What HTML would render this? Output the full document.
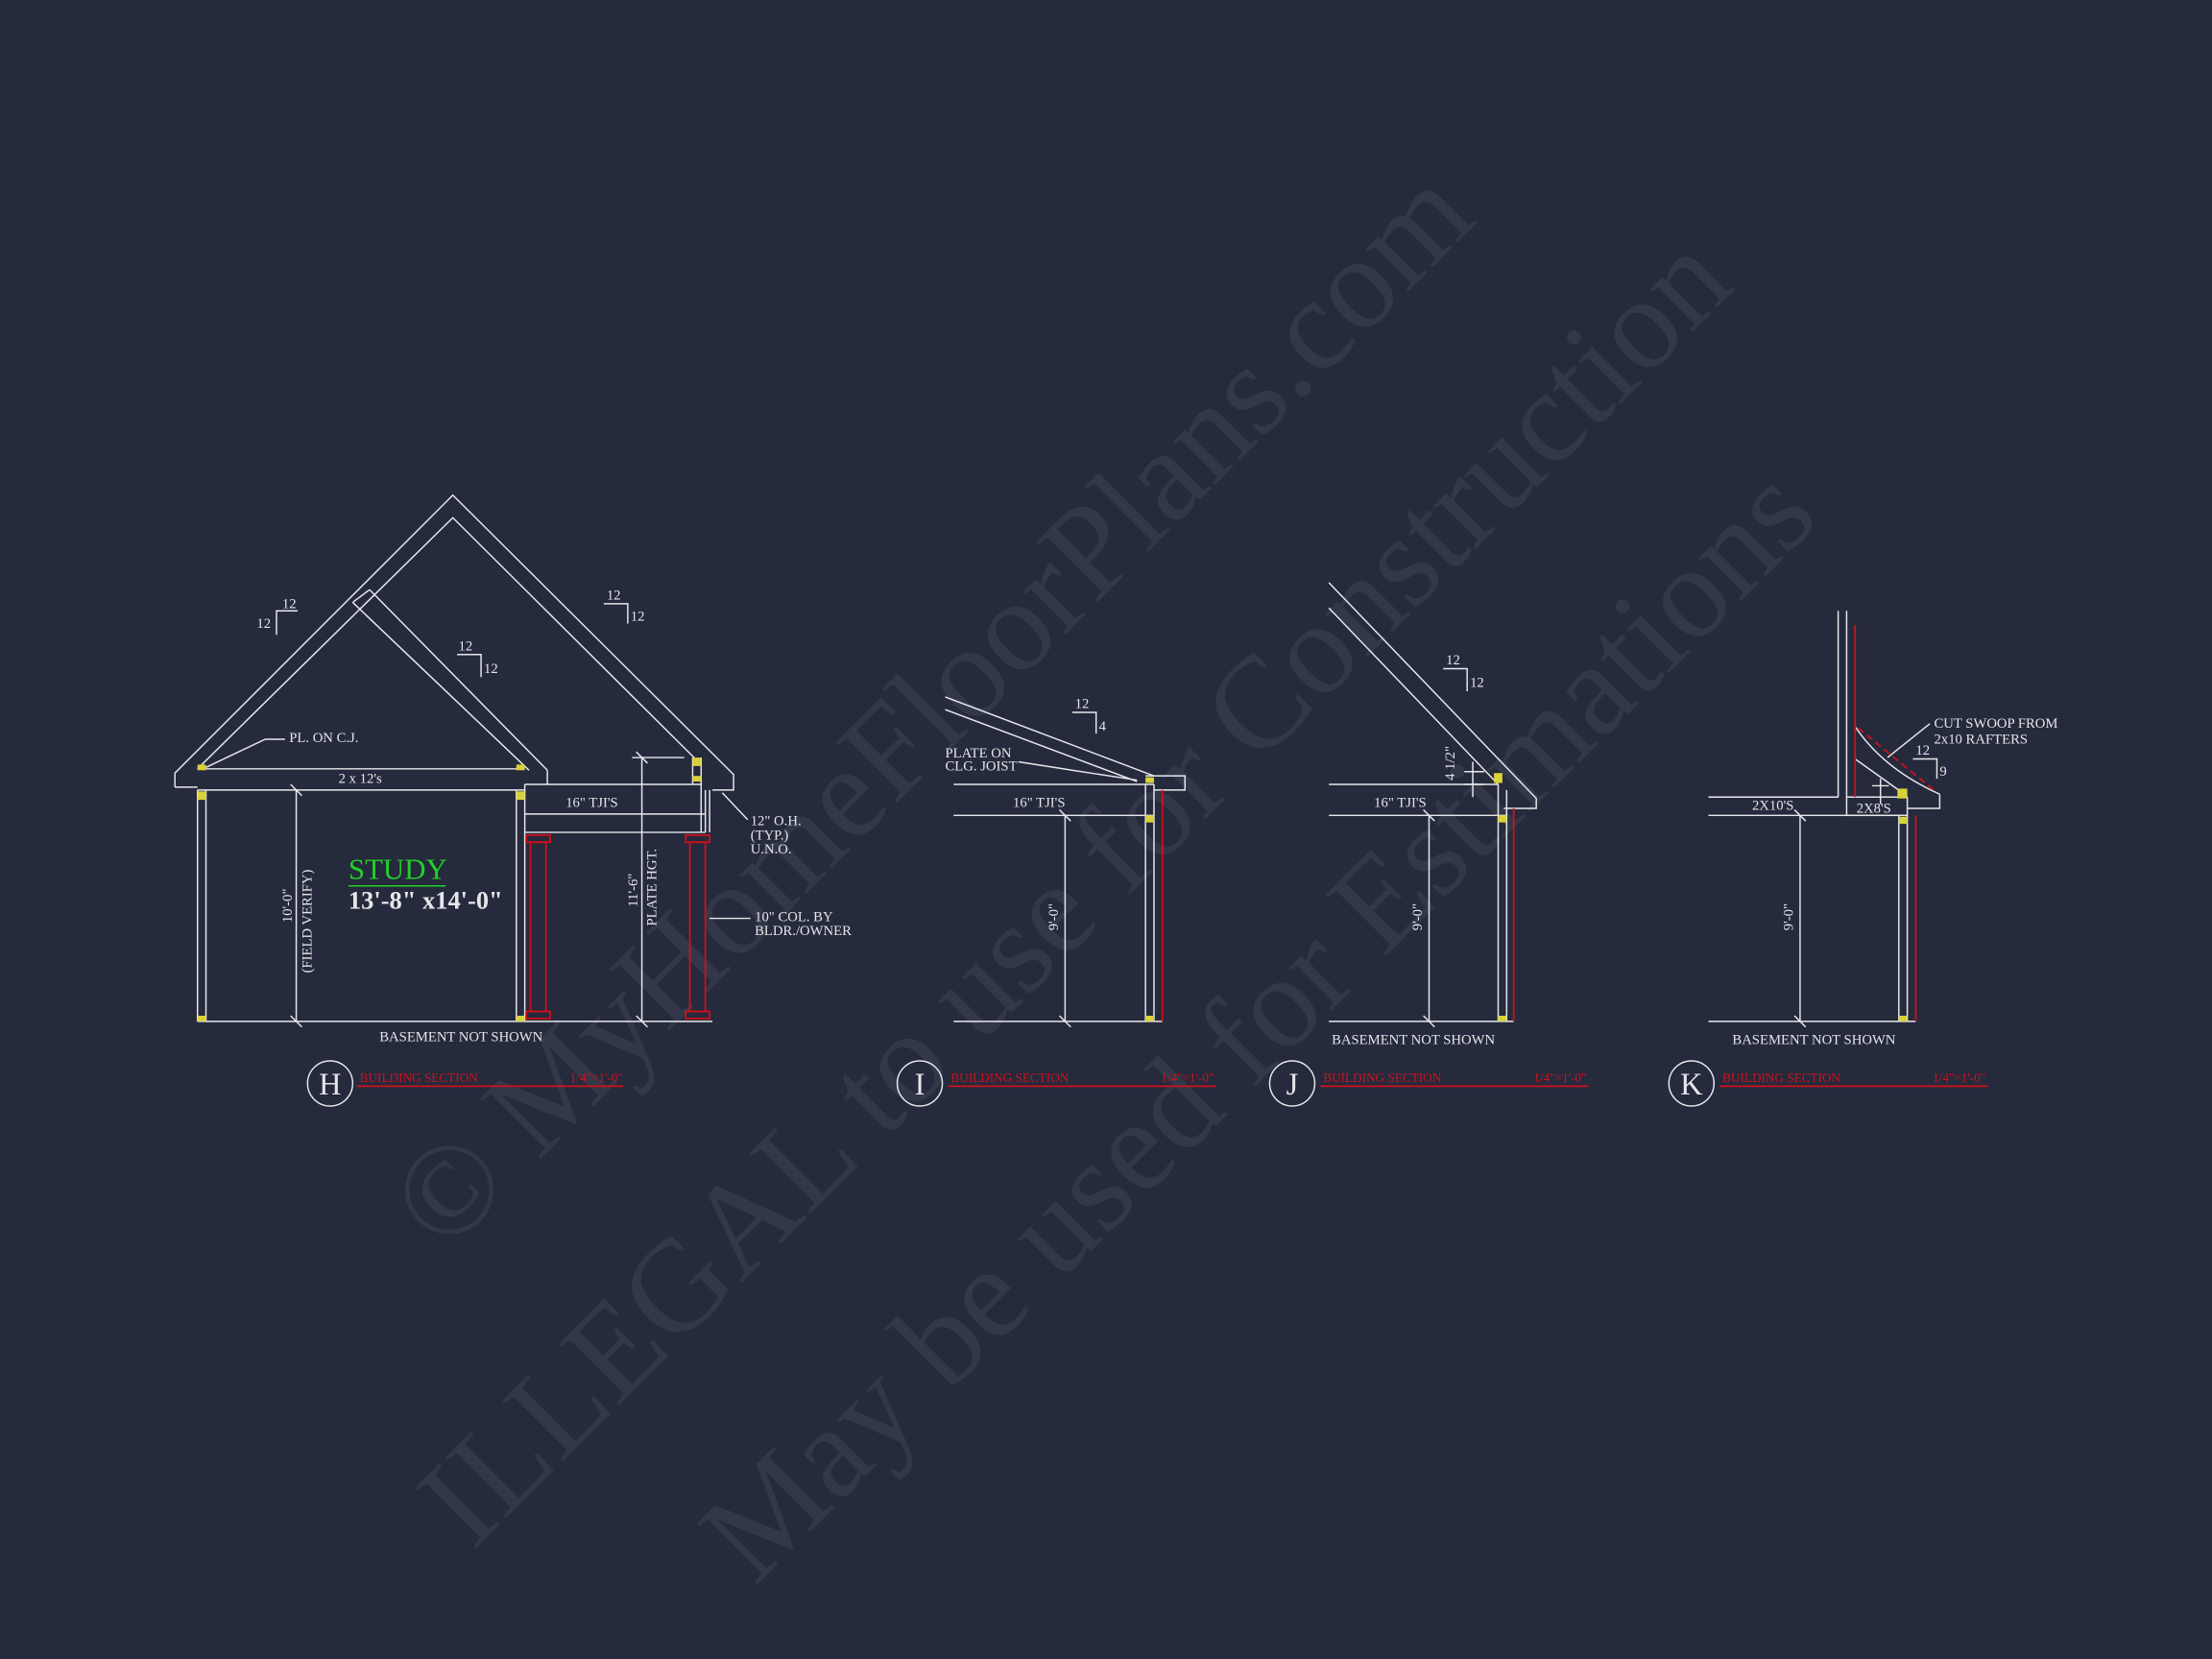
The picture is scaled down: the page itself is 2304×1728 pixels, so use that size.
<!DOCTYPE html>
<html><head><meta charset="utf-8"><style>
html,body{margin:0;padding:0;background:#252a3c;width:2304px;height:1728px;overflow:hidden}
svg{display:block}
text{font-family:"Liberation Serif",serif;fill:#e6e6ea}
</style></head><body>
<svg width="2304" height="1728" viewBox="0 0 1568 1176" xmlns="http://www.w3.org/2000/svg">
<rect width="1568" height="1176" fill="#252a3c"/>
<!-- watermark -->
<g font-size="93">
<text x="0" y="0" transform="translate(315,890) rotate(-45)" style="fill:#fff;fill-opacity:0.065">© MyHomeFloorPlans.com</text>
<text x="0" y="0" transform="translate(335,1100) rotate(-45)" style="fill:#fff;fill-opacity:0.065">ILLEGAL to use for Construction</text>
<text x="0" y="0" transform="translate(535,1125) rotate(-45)" style="fill:#fff;fill-opacity:0.065">May be used for Estimations</text>
</g>
<g stroke="#e8e8ec" stroke-width="1" fill="none">
<!-- H -->
<polyline points="124,558 124,548 321,351 520,549 520,560 505,560"/>
<polyline points="124,558 140,558"/>
<polyline points="140,545 321,367 497,542"/>
<line x1="250" y1="427" x2="375" y2="546"/>
<line x1="262" y1="418" x2="388" y2="546"/>
<line x1="250" y1="427" x2="262" y2="418"/>
<polyline points="388,546 388,556 372,556"/>
<line x1="140" y1="545" x2="372" y2="545"/>
<line x1="140" y1="560" x2="372" y2="560"/>
<line x1="140" y1="560" x2="140" y2="724"/>
<line x1="146" y1="560" x2="146" y2="724"/>
<line x1="366" y1="560" x2="366" y2="724"/>
<line x1="372" y1="556" x2="372" y2="724"/>
<line x1="140" y1="724" x2="505" y2="724"/>
<line x1="388" y1="556" x2="497" y2="556"/>
<line x1="372" y1="577" x2="500" y2="577"/>
<line x1="372" y1="590" x2="500" y2="590"/>
<line x1="491" y1="537" x2="491" y2="556"/>
<line x1="497" y1="537" x2="497" y2="590"/>
<line x1="500" y1="560" x2="500" y2="590"/>
<line x1="503" y1="560" x2="503" y2="590"/>
<line x1="210" y1="560" x2="210" y2="724"/>
<line x1="206" y1="556" x2="214" y2="564"/>
<line x1="206" y1="720" x2="214" y2="728"/>
<line x1="455" y1="537" x2="455" y2="724"/>
<line x1="448" y1="537" x2="485" y2="537"/>
<line x1="451" y1="533" x2="459" y2="541"/>
<line x1="451" y1="720" x2="459" y2="728"/>
<polyline points="146,544 188,524 202,524"/>
<line x1="512" y1="562" x2="530" y2="581"/>
<line x1="503" y1="651" x2="532" y2="651"/>
<polyline points="196,450 196,433 211,433"/>
<polyline points="428,428 445,428 445,442"/>
<polyline points="324,464 341,464 341,480"/>
<!-- I -->
<line x1="670" y1="494" x2="818" y2="550"/>
<line x1="670" y1="503" x2="806" y2="554"/>
<polyline points="812,550 840,550 840,560 818,560"/>
<line x1="676" y1="556" x2="818" y2="556"/>
<line x1="676" y1="578" x2="818" y2="578"/>
<line x1="812" y1="556" x2="812" y2="724"/>
<line x1="818" y1="556" x2="818" y2="724"/>
<line x1="676" y1="724" x2="824" y2="724"/>
<line x1="755" y1="578" x2="755" y2="724"/>
<line x1="751" y1="574" x2="759" y2="582"/>
<line x1="751" y1="720" x2="759" y2="728"/>
<polyline points="760,505 777,505 777,520"/>
<polyline points="722,540 760,546 806,553"/>
<!-- J -->
<polyline points="942,413 1089,566 1089,573 1066,573"/>
<line x1="942" y1="431" x2="1062" y2="556"/>
<line x1="942" y1="556" x2="1062" y2="556"/>
<line x1="942" y1="578" x2="1068" y2="578"/>
<line x1="1062" y1="556" x2="1062" y2="724"/>
<line x1="1068" y1="560" x2="1068" y2="724"/>
<line x1="942" y1="724" x2="1073" y2="724"/>
<line x1="1013" y1="578" x2="1013" y2="724"/>
<line x1="1009" y1="574" x2="1017" y2="582"/>
<line x1="1009" y1="720" x2="1017" y2="728"/>
<line x1="1044" y1="540" x2="1044" y2="565"/>
<line x1="1038" y1="547" x2="1052" y2="547"/>
<line x1="1038" y1="556" x2="1052" y2="556"/>
<polyline points="1023,474 1040,474 1040,490"/>
<!-- K -->
<line x1="1303" y1="433" x2="1303" y2="565"/>
<line x1="1309" y1="433" x2="1309" y2="565"/>
<line x1="1211" y1="565" x2="1303" y2="565"/>
<line x1="1211" y1="578" x2="1352" y2="578"/>
<rect x="1309" y="565" width="43" height="13"/>
<path d="M1315,515 Q1335,545 1375,563"/>
<line x1="1315" y1="538" x2="1350" y2="563"/>
<polyline points="1375,563 1375,573 1352,573"/>
<line x1="1346" y1="578" x2="1346" y2="724"/>
<line x1="1352" y1="578" x2="1352" y2="724"/>
<line x1="1211" y1="724" x2="1358" y2="724"/>
<line x1="1276" y1="578" x2="1276" y2="724"/>
<line x1="1272" y1="574" x2="1280" y2="582"/>
<line x1="1272" y1="720" x2="1280" y2="728"/>
<line x1="1333" y1="552" x2="1333" y2="570"/>
<line x1="1327" y1="557" x2="1339" y2="557"/>
<line x1="1368" y1="513" x2="1338" y2="537"/>
<polyline points="1356,538 1373,538 1373,552"/>
<!-- circles -->
<circle cx="234" cy="768" r="16"/>
<circle cx="652" cy="768" r="16"/>
<circle cx="916" cy="768" r="16"/>
<circle cx="1199" cy="768" r="16"/>
</g>
<!-- red -->
<g stroke="#d0101c" stroke-width="1.2" fill="none">
<rect x="376" y="597" width="11" height="120"/>
<rect x="373" y="592" width="17" height="5"/>
<rect x="373" y="717" width="17" height="5"/>
<rect x="489" y="597" width="11" height="120"/>
<rect x="486" y="592" width="17" height="5"/>
<rect x="486" y="717" width="17" height="5"/>
<line x1="824" y1="560" x2="824" y2="724"/>
<line x1="1073" y1="573" x2="1073" y2="724"/>
<line x1="1315" y1="443" x2="1315" y2="565"/>
<line x1="1358" y1="578" x2="1358" y2="724"/>
<line x1="1317" y1="516" x2="1372" y2="561" stroke-dasharray="5,3"/>
<line x1="253" y1="770" x2="442" y2="770"/>
<line x1="672" y1="770" x2="862" y2="770"/>
<line x1="936" y1="770" x2="1126" y2="770"/>
<line x1="1219" y1="770" x2="1409" y2="770"/>
</g>
<!-- yellow markers -->
<g fill="#d8d23a">
<rect x="140" y="542" width="6" height="4"/><rect x="366" y="542" width="6" height="4"/>
<rect x="140" y="561" width="6" height="6"/><rect x="366" y="561" width="6" height="6"/>
<rect x="140" y="720" width="6" height="4"/><rect x="366" y="720" width="6" height="4"/>
<rect x="491" y="537" width="6" height="6"/><rect x="491" y="550" width="6" height="4"/>
<rect x="812" y="551" width="6" height="4"/><rect x="812" y="578" width="6" height="5"/><rect x="812" y="720" width="6" height="4"/>
<rect x="1059" y="548" width="6" height="7"/><rect x="1062" y="578" width="6" height="5"/><rect x="1062" y="720" width="6" height="4"/>
<rect x="1345" y="559" width="7" height="7"/><rect x="1346" y="579" width="6" height="5"/><rect x="1346" y="720" width="6" height="4"/>
</g>
<!-- texts -->
<g font-size="10">
<text x="205" y="526">PL. ON C.J.</text>
<text x="240" y="555">2 x 12's</text>
<text x="401" y="572">16" TJI'S</text>
<text x="532" y="585">12" O.H.</text>
<text x="532" y="595">(TYP.)</text>
<text x="532" y="605">U.N.O.</text>
<text x="535" y="653">10" COL. BY</text>
<text x="535" y="663">BLDR./OWNER</text>
<text x="200" y="431">12</text><text x="182" y="445">12</text>
<text x="430" y="425">12</text><text x="447" y="440">12</text>
<text x="325" y="461">12</text><text x="343" y="477">12</text>
<text transform="translate(207,642) rotate(-90)" text-anchor="middle">10'-0"</text>
<text transform="translate(221,653) rotate(-90)" text-anchor="middle">(FIELD VERIFY)</text>
<text transform="translate(452,631) rotate(-90)" text-anchor="middle">11'-6"</text>
<text transform="translate(465,629) rotate(-90)" text-anchor="middle">PLATE HGT.</text>
<text x="269" y="738">BASEMENT NOT SHOWN</text>
<text x="670" y="537">PLATE ON</text>
<text x="670" y="546">CLG. JOIST</text>
<text x="718" y="572">16" TJI'S</text>
<text x="762" y="502">12</text><text x="779" y="518">4</text>
<text transform="translate(750,650) rotate(-90)" text-anchor="middle">9'-0"</text>
<text x="974" y="572">16" TJI'S</text>
<text x="1025" y="471">12</text><text x="1042" y="487">12</text>
<text transform="translate(1031,541) rotate(-90)" text-anchor="middle">4 1/2"</text>
<text transform="translate(1008,650) rotate(-90)" text-anchor="middle">9'-0"</text>
<text x="944" y="740">BASEMENT NOT SHOWN</text>
<text x="1242" y="574">2X10'S</text>
<text x="1316" y="576">2X8'S</text>
<text x="1371" y="516">CUT SWOOP FROM</text>
<text x="1371" y="527">2x10 RAFTERS</text>
<text x="1358" y="535">12</text><text x="1375" y="550">9</text>
<text transform="translate(1271,650) rotate(-90)" text-anchor="middle">9'-0"</text>
<text x="1228" y="740">BASEMENT NOT SHOWN</text>
</g>
<text x="247" y="623" font-size="21" style="fill:#22d02a">STUDY</text>
<line x1="247" y1="628" x2="316" y2="628" stroke="#22d02a" stroke-width="1"/>
<text x="247" y="644" font-size="18" font-weight="bold">13'-8" x14'-0"</text>
<g font-size="22" text-anchor="middle">
<text x="234" y="776">H</text><text x="652" y="776">I</text><text x="916" y="776">J</text><text x="1199" y="776">K</text>
</g>
<g font-size="9">
<text x="255" y="767" style="fill:#d0101c">BUILDING SECTION</text><text x="404" y="767" style="fill:#d0101c">1/4"=1'-0"</text>
<text x="674" y="767" style="fill:#d0101c">BUILDING SECTION</text><text x="823" y="767" style="fill:#d0101c">1/4"=1'-0"</text>
<text x="938" y="767" style="fill:#d0101c">BUILDING SECTION</text><text x="1087" y="767" style="fill:#d0101c">1/4"=1'-0"</text>
<text x="1221" y="767" style="fill:#d0101c">BUILDING SECTION</text><text x="1370" y="767" style="fill:#d0101c">1/4"=1'-0"</text>
</g>
</svg>
</body></html>
